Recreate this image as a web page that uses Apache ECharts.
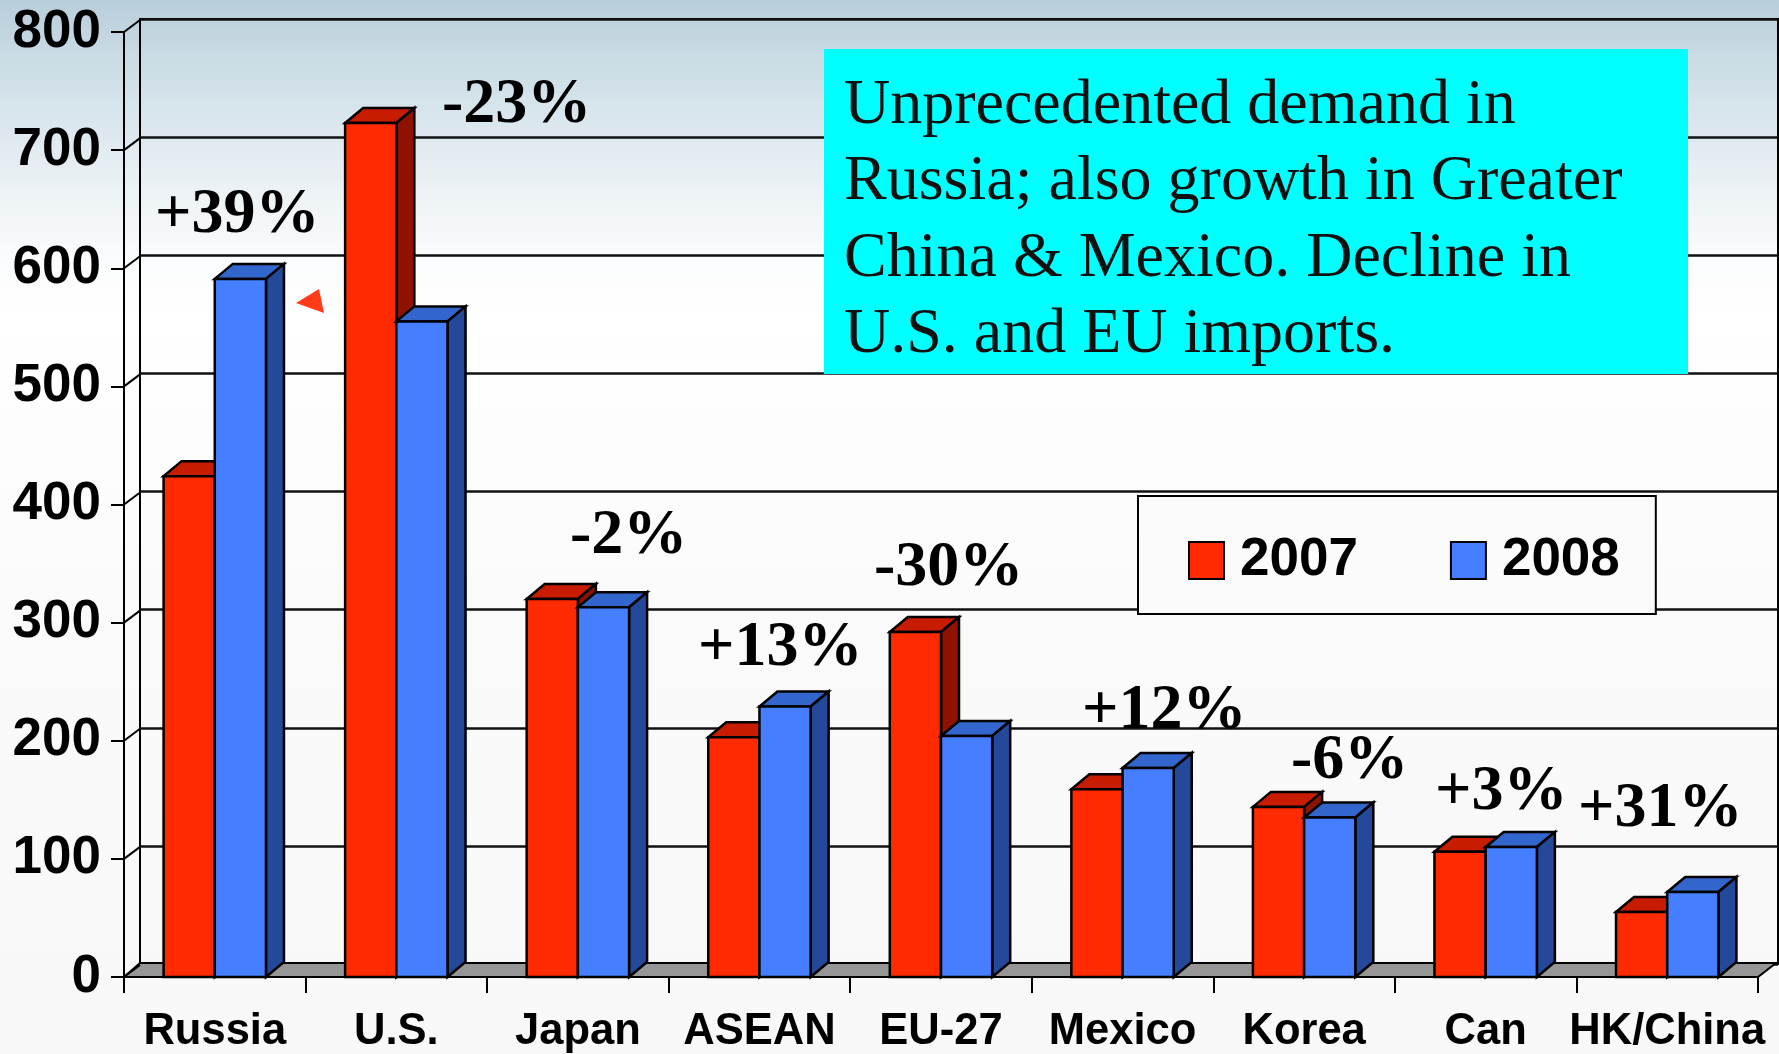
<!DOCTYPE html>
<html>
<head>
<meta charset="utf-8">
<title>Imports 2007 vs 2008</title>
<script src="https://cdn.jsdelivr.net/npm/echarts@6/dist/echarts.min.js"></script>
<style>
  html, body { margin: 0; padding: 0; background: #fff; }
  #chart { width: 1779px; height: 1054px; }
</style>
</head>
<body>
<div id="chart"></div>
<script>
var categories = ['Russia', 'U.S.', 'Japan', 'ASEAN', 'EU-27', 'Mexico', 'Korea', 'Can', 'HK/China'];
var values2007 = [424, 723, 320, 203, 292, 159, 144, 106, 55];
var values2008 = [591, 555, 313, 229, 204, 177, 135, 110, 72];
var yTicks = [0, 100, 200, 300, 400, 500, 600, 700, 800];
var changeLabels = ['+39%', '-23%', '-2%', '+13%', '-30%', '+12%', '-6%', '+3%', '+31%'];
var noteLines = ['Unprecedented demand in', 'Russia; also growth in Greater', 'China & Mexico. Decline in', 'U.S. and EU imports.'];

// depth of the fake 3d, in pixels (walls and bars differ a little)
var DX = 17, DY = 13;
var BAR_DX = 18, BAR_DY = 15;
var BAR_RATIO = 0.282;
var RED = { front: '#ff2a00', top: '#c81c00', side: '#8f1200' };
var BLUE = { front: '#457fff', top: '#3366cc', side: '#24489a' };

function box3d(x, y, w, h, c) {
  var style = function (fill) { return { fill: fill, stroke: '#000', lineWidth: 2.5 }; };
  return {
    type: 'group',
    children: [
      { type: 'polygon', shape: { points: [[x, y], [x + BAR_DX, y - BAR_DY], [x + w + BAR_DX, y - BAR_DY], [x + w, y]] }, style: style(c.top) },
      { type: 'polygon', shape: { points: [[x + w, y], [x + w + BAR_DX, y - BAR_DY], [x + w + BAR_DX, y + h - BAR_DY], [x + w, y + h]] }, style: style(c.side) },
      { type: 'rect', shape: { x: x, y: y, width: w, height: h }, style: style(c.front) }
    ]
  };
}

function barSeries(name, values, colors, side) {
  return {
    name: name,
    type: 'custom',
    xAxisIndex: 0,
    yAxisIndex: 0,
    z: 5,
    itemStyle: { color: colors.front, borderColor: '#000', borderWidth: 2 },
    encode: { x: 0, y: 1 },
    data: values.map(function (v, i) { return [i, v]; }),
    renderItem: function (params, api) {
      var top = api.coord([api.value(0), api.value(1)]);
      var base = api.coord([api.value(0), 0]);
      var w = api.size([1, 0])[0] * BAR_RATIO;
      var x = side < 0 ? top[0] - w : top[0];
      return box3d(x, top[1], w, base[1] - top[1], colors);
    }
  };
}

// floor of the box
var floorSeries = {
  type: 'custom',
  xAxisIndex: 0,
  yAxisIndex: 0,
  z: 3,
  silent: true,
  data: [[0, 0]],
  renderItem: function (params) {
    var c = params.coordSys;
    var y = c.y + c.height;
    return {
      type: 'polygon',
      shape: { points: [[c.x, y], [c.x + DX - 1, y - DY - 1], [c.x + c.width + DX + 1, y - DY - 1], [c.x + c.width, y]] },
      style: { fill: '#969696', stroke: '#000', lineWidth: 2 }
    };
  }
};

// little diagonals from the front axis to the back wall
var connectorSeries = {
  type: 'custom',
  xAxisIndex: 0,
  yAxisIndex: 0,
  z: 3,
  silent: true,
  encode: { y: 1 },
  data: yTicks.map(function (v) { return [0, v]; }),
  renderItem: function (params, api) {
    var p = api.coord([0, api.value(1)]);
    var x = params.coordSys.x;
    return {
      type: 'line',
      shape: { x1: x, y1: p[1], x2: x + DX - 1, y2: p[1] - DY + 1 },
      style: { stroke: '#000', lineWidth: 2 }
    };
  }
};

var labelPos = [
  [155, 215], [442, 105], [570, 536], [698, 648], [874, 568],
  [1082, 711], [1291, 761], [1435, 792], [1578, 809]
];
var graphics = changeLabels.map(function (t, i) {
  return {
    type: 'text',
    z: 100,
    x: labelPos[i][0],
    y: labelPos[i][1],
    style: {
      text: t,
      fill: '#000',
      font: 'bold 64px "Liberation Serif"',
      textAlign: 'left',
      textVerticalAlign: 'middle'
    }
  };
});
graphics.push({
  type: 'rect',
  z: 90,
  shape: { x: 824, y: 49, width: 864, height: 325 },
  style: { fill: '#00ffff' }
});
noteLines.forEach(function (t, i) {
  graphics.push({
    type: 'text',
    z: 100,
    x: 844,
    y: 106 + i * 76.5,
    style: {
      text: t,
      fill: '#111',
      font: '64px "Liberation Serif"',
      textAlign: 'left',
      textVerticalAlign: 'middle'
    }
  });
});
// stray red triangle from the slide
graphics.push({
  type: 'polygon',
  z: 100,
  shape: { points: [[296, 303], [319, 289], [324, 313]] },
  style: { fill: '#ff3b1a' }
});

var chart = echarts.init(document.getElementById('chart'), null, { renderer: 'canvas' });
chart.setOption({
  animation: false,
  backgroundColor: new echarts.graphic.LinearGradient(0, 0, 0, 1, [
    { offset: 0, color: '#b8cedb' },
    { offset: 0.05, color: '#c8dae3' },
    { offset: 0.1, color: '#d6e4eb' },
    { offset: 0.19, color: '#eef3f6' },
    { offset: 0.25, color: '#fbfcfd' },
    { offset: 0.3, color: '#ffffff' },
    { offset: 0.6, color: '#fafafa' },
    { offset: 1, color: '#f8f8f8' }
  ]),
  grid: [
    { left: 124, right: 21, top: 32, bottom: 75 },
    { left: 140, right: 1, top: 19, bottom: 90, show: true, borderColor: '#000', borderWidth: 2, backgroundColor: 'transparent' }
  ],
  xAxis: [
    {
      type: 'category',
      gridIndex: 0,
      data: categories,
      axisLine: { lineStyle: { color: '#000', width: 2 } },
      axisTick: { show: true, length: 16, lineStyle: { color: '#000', width: 2 } },
      axisLabel: { interval: 0, margin: 33, color: '#000', fontFamily: 'Liberation Sans', fontWeight: 'bold', fontSize: 43.5 }
    },
    {
      type: 'category',
      gridIndex: 1,
      data: categories,
      axisLine: { show: false },
      axisTick: { show: false },
      axisLabel: { show: false }
    }
  ],
  yAxis: [
    {
      type: 'value',
      gridIndex: 0,
      min: 0,
      max: 800,
      interval: 100,
      axisLine: { show: true, lineStyle: { color: '#000', width: 2 } },
      axisTick: { show: true, length: 13, lineStyle: { color: '#000', width: 2 } },
      axisLabel: { margin: 23, color: '#000', fontFamily: 'Liberation Sans', fontWeight: 'bold', fontSize: 53, padding: [6, 0, 0, 0] },
      splitLine: { show: false }
    },
    {
      type: 'value',
      gridIndex: 1,
      min: 0,
      max: 800,
      interval: 100,
      axisLine: { show: false },
      axisTick: { show: false },
      axisLabel: { show: false },
      splitLine: { show: true, lineStyle: { color: '#111', width: 2.5 } }
    }
  ],
  legend: {
    left: 1138,
    top: 496,
    orient: 'horizontal',
    selectedMode: false,
    padding: [38, 36, 27, 50],
    itemGap: 92,
    itemWidth: 35,
    itemHeight: 37,
    icon: 'rect',
    backgroundColor: '#fbfbfb',
    borderColor: '#000',
    borderWidth: 2,
    data: ['2007', '2008'],
    textStyle: { color: '#000', fontFamily: 'Liberation Sans', fontWeight: 'bold', fontSize: 53, padding: [0, 0, 0, 11] }
  },
  series: [
    floorSeries,
    connectorSeries,
    barSeries('2007', values2007, RED, -1),
    barSeries('2008', values2008, BLUE, 1)
  ],
  graphic: { elements: graphics }
});
</script>
</body>
</html>
